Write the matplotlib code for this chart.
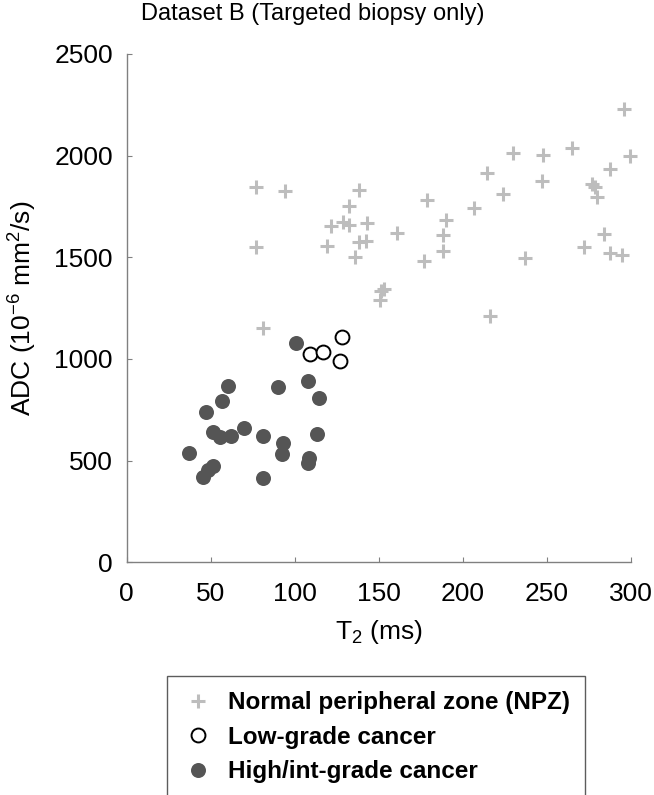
import matplotlib
matplotlib.use("Agg")
import matplotlib.pyplot as plt

plt.rcParams['font.family'] = ['Liberation Sans', 'DejaVu Sans']
plt.rcParams['mathtext.fontset'] = 'custom'
plt.rcParams['mathtext.rm'] = 'Liberation Sans'
plt.rcParams['mathtext.it'] = 'Liberation Sans:italic'

# normal peripheral zone (T2 ms, ADC 1e-6 mm2/s)
npz_t2 = [296, 299.6, 230, 248, 265, 288, 214.5, 247, 276.8, 278.8, 280, 224,
          207, 179, 190, 188, 188.4, 177, 161, 237, 284, 272, 287.7, 295, 216,
          153, 151.5, 150.5, 81, 77, 94, 138, 132.5, 128.6, 132.5, 121.4, 143,
          119.4, 76.8, 138.4, 142.7, 136]
npz_adc = [2227, 1998, 2011, 2002, 2039, 1932, 1912, 1875, 1858, 1847, 1798, 1809,
           1740, 1781, 1683, 1609, 1530, 1483, 1620, 1495, 1614, 1549, 1519, 1511, 1212,
           1345, 1335, 1288, 1153, 1844, 1824, 1830, 1753, 1675, 1658, 1653, 1670,
           1557, 1552, 1573, 1581, 1500]

# low-grade cancer
low_t2 = [128, 109.3, 116.7, 126.8]
low_adc = [1108, 1024, 1032, 988]

# high/intermediate-grade cancer
high_t2 = [100.8, 60.5, 90.1, 107.7, 114.5, 56.9, 47.2, 51.5, 55.5, 62.1, 70, 81.1,
           93.2, 92.6, 113.1, 108.3, 108.1, 37.3, 51.5, 48.6, 45.2, 81]
high_adc = [1078, 868, 860, 890, 808, 794, 740, 642, 617, 621, 659, 619,
            585, 532, 631, 511, 490, 536, 475, 454, 418, 413]

x_ticks = [0, 50, 100, 150, 200, 250, 300]
y_ticks = [0, 500, 1000, 1500, 2000, 2500]

fig = plt.figure(figsize=(6.54, 7.95), dpi=100)
ax = fig.add_axes([0.1937, 0.2927, 0.7706, 0.6396])

ax.plot(npz_t2, npz_adc, '+', color='#bdbdbd', ms=10.5, mew=2.2, linestyle='none',
        label='Normal peripheral zone (NPZ)', clip_on=False)
ax.plot(low_t2, low_adc, 'o', mfc='white', mec='black', ms=10, mew=1.4,
        linestyle='none', label='Low-grade cancer', clip_on=False)
ax.plot(high_t2, high_adc, 'o', color='#555555', mec='#555555', ms=10.8, mew=0,
        linestyle='none', label='High/int-grade cancer', clip_on=False)

ax.set_xlim(0, 300)
ax.set_ylim(0, 2500)
ax.set_xticks(x_ticks)
ax.set_yticks(y_ticks)
for s in ['top', 'right']:
    ax.spines[s].set_visible(False)
for s in ['left', 'bottom']:
    ax.spines[s].set_color('#808080')
    ax.spines[s].set_linewidth(1.0)
ax.tick_params(direction='in', length=3.5, width=0.8, color='#808080',
               labelsize=19)
ax.tick_params(axis='y', pad=10)
ax.tick_params(axis='x', pad=14)

ax.set_xlabel(r'T$_\mathregular{2}$ (ms)', fontsize=19, labelpad=9)
ax.set_ylabel(r'ADC (10$^\mathregular{-6}$ mm$^\mathregular{2}$/s)', fontsize=19,
              labelpad=11)
fig.text(313 / 654, 1 - 14 / 795, 'Dataset B (Targeted biopsy only)',
         fontsize=17, ha='center', va='center')

leg = fig.legend(loc='upper left', bbox_to_anchor=(167 / 654, 1 - 676 / 795),
                 frameon=True, fancybox=False, prop={'weight': 'bold', 'size': 17.5},
                 labelspacing=0.48, borderpad=0.62, handlelength=1.3,
                 handletextpad=0.6, borderaxespad=0)
leg.get_frame().set_edgecolor('#333333')
leg.get_frame().set_linewidth(1.0)

fig.savefig('out.png', dpi=100)
